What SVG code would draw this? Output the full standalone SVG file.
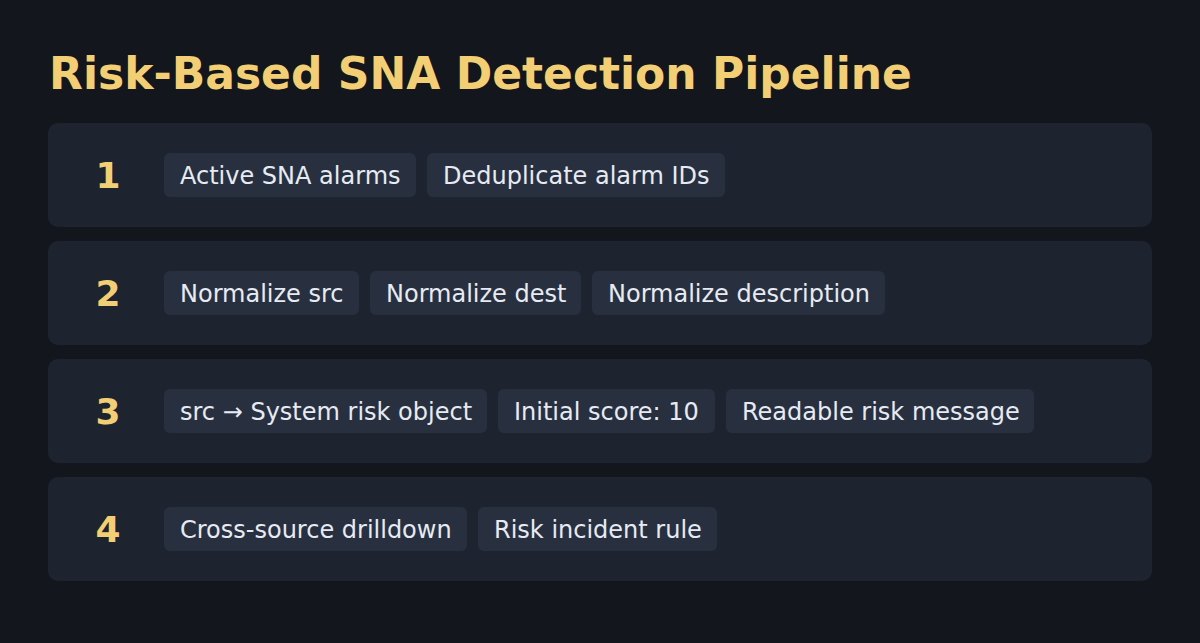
<svg xmlns="http://www.w3.org/2000/svg" width="1200" height="643" viewBox="0 0 1200 643">
<style>
.bg{fill:#13161d}
.title{font-family:"DejaVu Sans",sans-serif;font-weight:bold;font-size:44px;fill:#f2cf74}
.panel{fill:#1e2330}
.num{font-family:"DejaVu Sans",sans-serif;font-weight:bold;font-size:36px;fill:#f2cf74;text-anchor:middle}
.chip{fill:#283040}
.ct{font-family:"DejaVu Sans",sans-serif;font-size:24px;fill:#e6ebf3}
</style>
<rect class="bg" x="0" y="0" width="1200" height="643"/>
<text class="title" x="49" y="89">Risk-Based SNA Detection Pipeline</text>
<g id="step1">
<rect class="panel" x="48" y="123" width="1104" height="104" rx="10"/>
<text class="num" x="108" y="188">1</text>
<rect class="chip" x="164" y="153" width="252" height="44" rx="6"/>
<text class="ct" x="180" y="184">Active SNA alarms</text>
<rect class="chip" x="427" y="153" width="298" height="44" rx="6"/>
<text class="ct" x="443" y="184">Deduplicate alarm IDs</text>
</g>
<g id="step2">
<rect class="panel" x="48" y="241" width="1104" height="104" rx="10"/>
<text class="num" x="108" y="306">2</text>
<rect class="chip" x="164" y="271" width="195" height="44" rx="6"/>
<text class="ct" x="180" y="302">Normalize src</text>
<rect class="chip" x="370" y="271" width="211" height="44" rx="6"/>
<text class="ct" x="386" y="302">Normalize dest</text>
<rect class="chip" x="592" y="271" width="293" height="44" rx="6"/>
<text class="ct" x="608" y="302">Normalize description</text>
</g>
<g id="step3">
<rect class="panel" x="48" y="359" width="1104" height="104" rx="10"/>
<text class="num" x="108" y="424">3</text>
<rect class="chip" x="164" y="389" width="323" height="44" rx="6"/>
<text class="ct" x="180" y="420">src → System risk object</text>
<rect class="chip" x="498" y="389" width="217" height="44" rx="6"/>
<text class="ct" x="514" y="420">Initial score: 10</text>
<rect class="chip" x="726" y="389" width="308" height="44" rx="6"/>
<text class="ct" x="742" y="420">Readable risk message</text>
</g>
<g id="step4">
<rect class="panel" x="48" y="477" width="1104" height="104" rx="10"/>
<text class="num" x="108" y="542">4</text>
<rect class="chip" x="164" y="507" width="303" height="44" rx="6"/>
<text class="ct" x="180" y="538">Cross-source drilldown</text>
<rect class="chip" x="478" y="507" width="239" height="44" rx="6"/>
<text class="ct" x="494" y="538">Risk incident rule</text>
</g>
<g id="connectors"/>
</svg>
